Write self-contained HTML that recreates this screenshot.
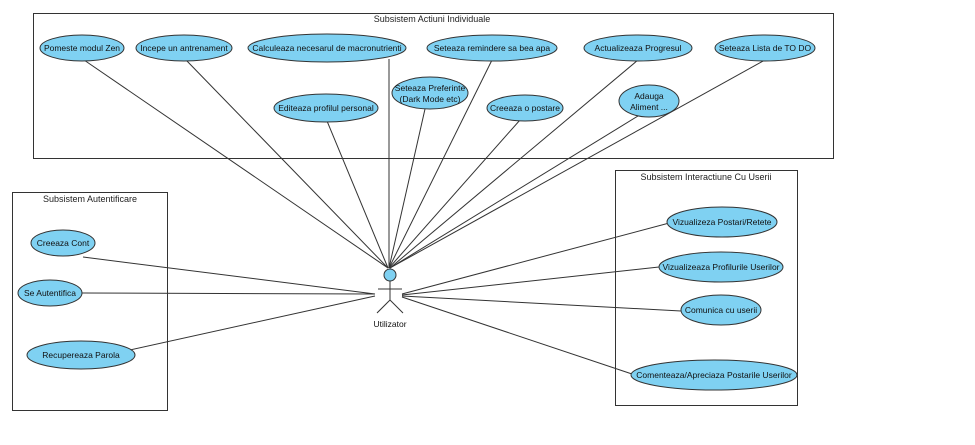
<!DOCTYPE html>
<html><head><meta charset="utf-8"><style>html,body{margin:0;padding:0;background:#fff}</style></head>
<body>
<svg width="975" height="440" xmlns="http://www.w3.org/2000/svg" font-family="Liberation Sans, sans-serif" font-size="9">
<rect width="975" height="440" fill="#fff"/>
<g fill="none" stroke="#333" stroke-width="1">
<rect x="33.5" y="13.5" width="800" height="145"/>
<rect x="12.5" y="192.5" width="155" height="218"/>
<rect x="615.5" y="170.5" width="182" height="235"/>
</g>
<g font-size="9" fill="#222" text-anchor="middle">
<text x="432" y="22">Subsistem Actiuni Individuale</text>
<text x="90" y="202">Subsistem Autentificare</text>
<text x="706" y="180">Subsistem Interactiune Cu Userii</text>
</g>
<g stroke="#333" stroke-width="1">
<line x1="84" y1="60" x2="388" y2="268"/>
<line x1="186" y1="60" x2="388" y2="268"/>
<line x1="389" y1="59" x2="389" y2="268"/>
<line x1="492" y1="60" x2="389" y2="268"/>
<line x1="638" y1="60" x2="390" y2="268"/>
<line x1="765" y1="60" x2="390" y2="268"/>
<line x1="327" y1="121" x2="388" y2="268"/>
<line x1="425" y1="109" x2="389" y2="268"/>
<line x1="520" y1="120" x2="389" y2="268"/>
<line x1="638" y1="116" x2="390" y2="268"/>
<line x1="83" y1="257" x2="375" y2="294"/>
<line x1="82" y1="293" x2="375" y2="294"/>
<line x1="116" y1="353" x2="375" y2="296"/>
<line x1="402" y1="294" x2="673" y2="222"/>
<line x1="402" y1="295" x2="659" y2="267"/>
<line x1="402" y1="296" x2="681" y2="311"/>
<line x1="402" y1="297" x2="632" y2="374"/>
</g>
<g fill="#7fd1f2" stroke="#333" stroke-width="1">
<ellipse cx="82" cy="48" rx="42" ry="13"/>
<ellipse cx="184" cy="48" rx="48" ry="13"/>
<ellipse cx="327" cy="48" rx="79" ry="14"/>
<ellipse cx="492" cy="48" rx="65" ry="13"/>
<ellipse cx="638" cy="48" rx="54" ry="13"/>
<ellipse cx="765" cy="48" rx="50" ry="13"/>
<ellipse cx="326" cy="108" rx="52" ry="14"/>
<ellipse cx="430" cy="93" rx="38" ry="16"/>
<ellipse cx="525" cy="108" rx="38" ry="13"/>
<ellipse cx="649" cy="101" rx="30" ry="16"/>
<ellipse cx="63" cy="243" rx="32" ry="13"/>
<ellipse cx="50" cy="293" rx="32" ry="13"/>
<ellipse cx="81" cy="355" rx="54" ry="14"/>
<ellipse cx="722" cy="222" rx="55" ry="15"/>
<ellipse cx="721" cy="267" rx="62" ry="15"/>
<ellipse cx="721" cy="310" rx="40" ry="15"/>
<ellipse cx="714" cy="375" rx="83" ry="15"/>
<circle cx="390" cy="275" r="6"/>
</g>
<g stroke="#333" stroke-width="1" fill="none">
<line x1="390" y1="281" x2="390" y2="300"/>
<line x1="378" y1="289" x2="402" y2="289"/>
<line x1="390" y1="300" x2="377" y2="313"/>
<line x1="390" y1="300" x2="403" y2="313"/>
</g>
<g fill="#111" text-anchor="middle" font-size="8.5">
<text x="82" y="51">Pomeste modul Zen</text>
<text x="184" y="51">Incepe un antrenament</text>
<text x="327" y="51">Calculeaza necesarul de macronutrienti</text>
<text x="492" y="51">Seteaza remindere sa bea apa</text>
<text x="638" y="51">Actualizeaza Progresul</text>
<text x="765" y="51">Seteaza Lista de TO DO</text>
<text x="326" y="111">Editeaza profilul personal</text>
<text x="430" y="91">Seteaza Preferinte</text>
<text x="430" y="102">(Dark Mode etc)</text>
<text x="525" y="111">Creeaza o postare</text>
<text x="649" y="99">Adauga</text>
<text x="649" y="110">Aliment ...</text>
<text x="63" y="246">Creeaza Cont</text>
<text x="50" y="296">Se Autentifica</text>
<text x="81" y="358">Recupereaza Parola</text>
<text x="722" y="225">Vizualizeza Postari/Retete</text>
<text x="721" y="270">Vizualizeaza Profilurile Userilor</text>
<text x="721" y="313">Comunica cu userii</text>
<text x="714" y="378">Comenteaza/Apreciaza Postarile Userilor</text>
<text x="390" y="327">Utilizator</text>
</g>
</svg>
</body></html>
